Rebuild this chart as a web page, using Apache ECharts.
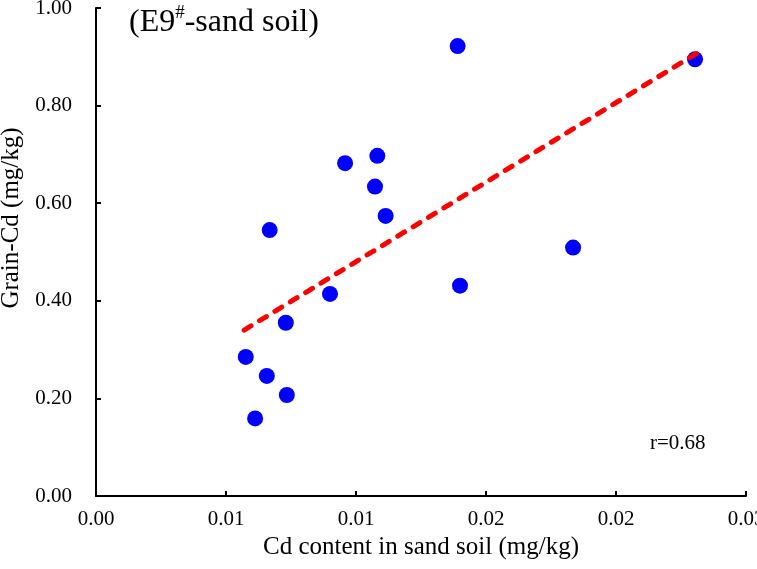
<!DOCTYPE html>
<html>
<head>
<meta charset="utf-8">
<script src="https://cdn.jsdelivr.net/npm/echarts@6/dist/echarts.min.js"></script>
<style>html,body{margin:0;padding:0;background:#fff}#c{width:757px;height:569px}</style>
</head>
<body>
<div id="c"></div>
<script>
const xValues = [0.00958, 0.01082, 0.01073, 0.01114, 0.00668, 0.00900, 0.00730, 0.00576, 0.00657, 0.00734, 0.00612, 0.01391, 0.02304, 0.01835, 0.01400];
const yValues = [0.682, 0.697, 0.634, 0.574, 0.545, 0.414, 0.355, 0.285, 0.246, 0.207, 0.159, 0.922, 0.895, 0.509, 0.431];
const trendX = [0.00570, 0.02310];
const trendY = [0.340, 0.907];
const xTickLabels = ['0.00', '0.01', '0.01', '0.02', '0.02', '0.03'];
const yTickLabels = ['0.00', '0.20', '0.40', '0.60', '0.80', '1.00'];

const font = 'Liberation Serif, Times New Roman, serif';
const chart = echarts.init(document.getElementById('c'));
const axisCommon = {
  axisLine: {show: true, lineStyle: {color: '#000', width: 2}},
  axisTick: {show: true, inside: true, length: 5, lineStyle: {color: '#000', width: 2}},
  splitLine: {show: false}
};
chart.setOption({
  animation: false,
  backgroundColor: '#fff',
  grid: {left: 96, right: 11, top: 8, bottom: 73, containLabel: false, outerBoundsMode: 'none'},
  title: {
    text: '{a|(E9}{s|#}{a|-sand soil)}',
    left: 124, top: -1,
    textStyle: {
      fontWeight: 'normal',
      rich: {
        a: {fontFamily: font, fontSize: 32, fontWeight: 'normal', color: '#000', lineHeight: 38},
        s: {fontFamily: font, fontSize: 19, fontWeight: 'normal', color: '#000', verticalAlign: 'top', lineHeight: 38, padding: [0, 0, 14, 0]}
      }
    }
  },
  xAxis: Object.assign({}, axisCommon, {
    type: 'value', min: 0, max: 0.025, interval: 0.005,
    name: 'Cd content in sand soil (mg/kg)', nameLocation: 'middle', nameGap: 38,
    nameTextStyle: {fontFamily: font, fontSize: 25, color: '#000'},
    axisLabel: {fontFamily: font, fontSize: 21, color: '#000', margin: 13,
      formatter: v => xTickLabels[Math.round(v / 0.005)]}
  }),
  yAxis: Object.assign({}, axisCommon, {
    type: 'value', min: 0, max: 1, interval: 0.2,
    name: 'Grain-Cd (mg/kg)', nameLocation: 'middle', nameGap: 72,
    nameTextStyle: {fontFamily: font, fontSize: 25, color: '#000', padding: [0, 0, 0, 68]},
    axisLabel: {fontFamily: font, fontSize: 21, color: '#000', margin: 24,
      formatter: v => yTickLabels[Math.round(v / 0.2)]}
  }),
  series: [
    {
      type: 'scatter',
      data: xValues.map((x, i) => [x, yValues[i]]),
      symbol: 'circle', symbolSize: 16,
      itemStyle: {color: '#0000FF', opacity: 1},
      z: 2
    },
    {
      type: 'line',
      data: trendX.map((x, i) => [x, trendY[i]]),
      showSymbol: false, symbol: 'none',
      lineStyle: {color: '#FF0000', width: 5, type: [8, 10], cap: 'round'},
      z: 3
    }
  ],
  graphic: [{
    type: 'text', left: 650, top: 433,
    style: {text: 'r=0.68', fontFamily: font, fontSize: 21, fill: '#000'}
  }]
});
</script>
</body>
</html>
